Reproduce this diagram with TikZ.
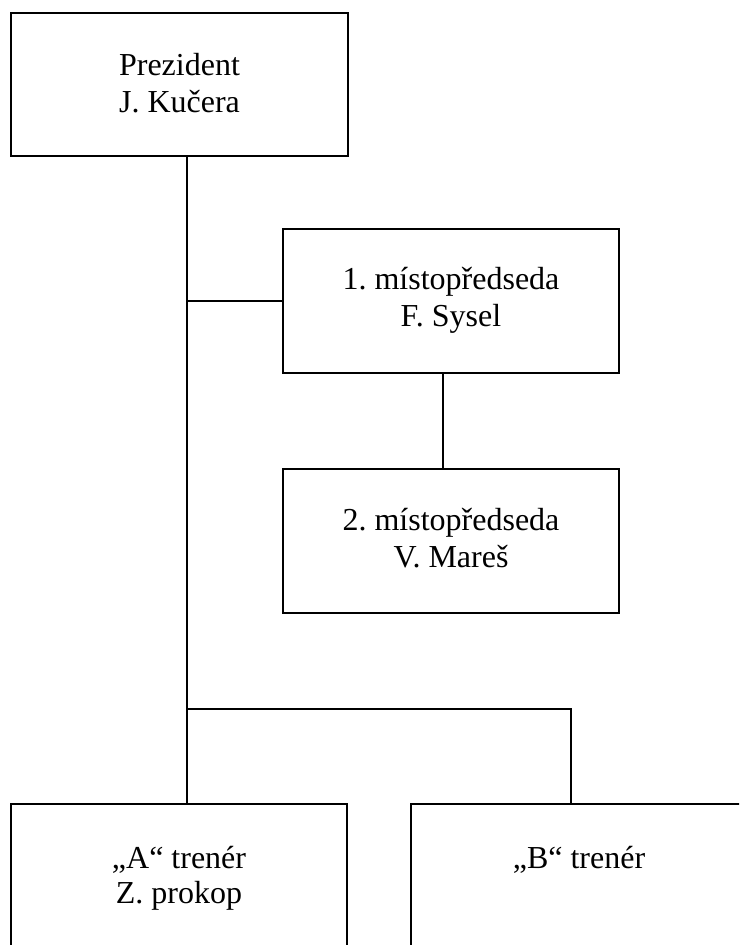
\documentclass[tikz,border=0pt]{standalone}
\usepackage{fontspec}
\setmainfont{Liberation Serif}
\frenchspacing
\begin{document}
\begin{tikzpicture}[x=1pt,y=-1pt,
  box/.style={draw=black,line width=1.8pt,rectangle,inner sep=0pt,minimum width=336pt,minimum height=144pt,fill=none},
  txt/.style={anchor=base,inner sep=0pt,font=\fontsize{32}{38}\selectfont\frenchspacing},
  conn/.style={draw=black,line width=1.8pt}]
\useasboundingbox (0,0) rectangle (739,945);
\clip (0,0) rectangle (739,945);
% boxes
\node[box,minimum width=337pt,minimum height=143pt] (P) at (179.5,84.5) {};
\node[box] (S1) at (451,301) {};
\node[box] (S2) at (451,541) {};
\node[box,minimum height=156pt] (A) at (179,882) {};
\node[box,minimum height=156pt] (B) at (579,882) {};
% texts
\node[txt] (P1) at (179.5,75) {Prezident};
\node[txt] (P2) at (179.5,112) {J. Kučera};
\node[txt] (S11) at (451,289) {1. místopředseda};
\node[txt] (S12) at (451,326) {F. Sysel};
\node[txt] (S21) at (451,530) {2. místopředseda};
\node[txt] (S22) at (451,567) {V. Mareš};
\node[txt] (A1) at (179,868) {„A“ trenér};
\node[txt] (A2) at (179,903) {Z. prokop};
\node[txt] (B1) at (579,868) {„B“ trenér};
% junctions
\coordinate (j1) at (187,301);
\coordinate (j2) at (187,709);
\coordinate (j3) at (571,709);
\coordinate (s) at (443,301);
% connectors
\draw[conn] (P.south -| j1) -- (A.north -| j1);
\draw[conn] (j1) -- (S1.west);
\draw[conn] (S1.south -| s) -- (S2.north -| s);
\draw[conn] (j2) -- (j3) -- (B.north -| j3);
\end{tikzpicture}
\end{document}
